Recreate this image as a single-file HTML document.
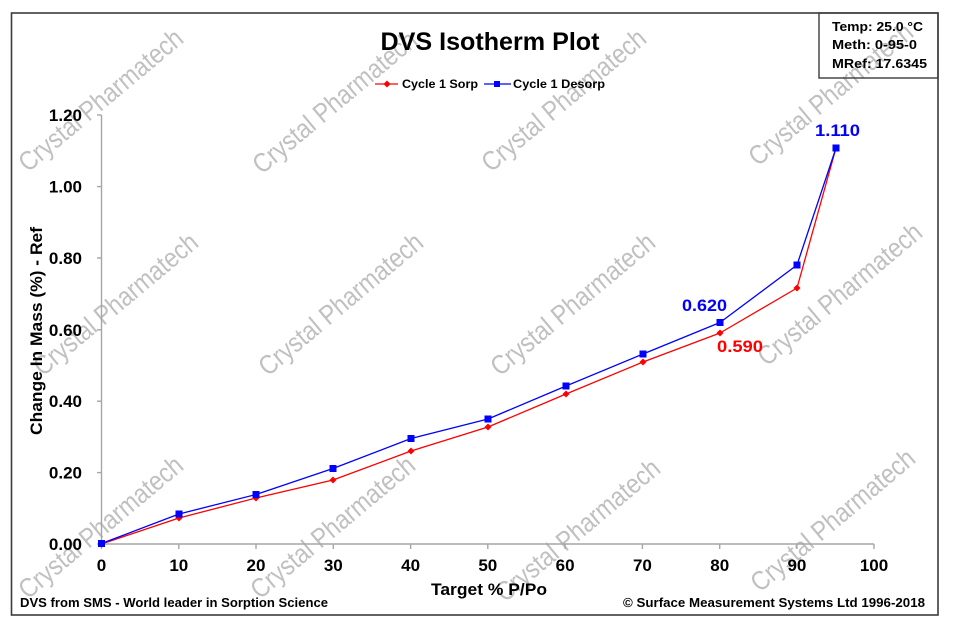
<!DOCTYPE html>
<html>
<head>
<meta charset="utf-8">
<style>
html,body{margin:0;padding:0;background:#fff;}
svg{display:block;}
text{font-family:"Liberation Sans",Arial,sans-serif;}
</style>
</head>
<body>
<svg width="960" height="641" viewBox="0 0 960 641" xmlns="http://www.w3.org/2000/svg">
<rect x="0" y="0" width="960" height="641" fill="#fff"/>

<!-- Watermarks -->
<g fill="#c0c0c0" font-size="27" font-family="'Liberation Sans',sans-serif">
  <text transform="translate(28,173) rotate(-40)" textLength="205" lengthAdjust="spacingAndGlyphs">Crystal Pharmatech</text>
  <text transform="translate(262,175) rotate(-40)" textLength="205" lengthAdjust="spacingAndGlyphs">Crystal Pharmatech</text>
  <text transform="translate(491,173) rotate(-40)" textLength="205" lengthAdjust="spacingAndGlyphs">Crystal Pharmatech</text>
  <text transform="translate(758,167) rotate(-40)" textLength="205" lengthAdjust="spacingAndGlyphs">Crystal Pharmatech</text>

  <text transform="translate(43,377) rotate(-40)" textLength="205" lengthAdjust="spacingAndGlyphs">Crystal Pharmatech</text>
  <text transform="translate(268,377) rotate(-40)" textLength="205" lengthAdjust="spacingAndGlyphs">Crystal Pharmatech</text>
  <text transform="translate(500,377) rotate(-40)" textLength="205" lengthAdjust="spacingAndGlyphs">Crystal Pharmatech</text>
  <text transform="translate(767,367) rotate(-40)" textLength="205" lengthAdjust="spacingAndGlyphs">Crystal Pharmatech</text>

  <text transform="translate(28,600) rotate(-40)" textLength="205" lengthAdjust="spacingAndGlyphs">Crystal Pharmatech</text>
  <text transform="translate(260,600) rotate(-40)" textLength="205" lengthAdjust="spacingAndGlyphs">Crystal Pharmatech</text>
  <text transform="translate(505,603) rotate(-40)" textLength="205" lengthAdjust="spacingAndGlyphs">Crystal Pharmatech</text>
  <text transform="translate(760,593) rotate(-40)" textLength="205" lengthAdjust="spacingAndGlyphs">Crystal Pharmatech</text>
</g>

<!-- Outer frame -->
<rect x="11.5" y="13" width="926.5" height="602" fill="none" stroke="#3c3c3c" stroke-width="1.6"/>
<!-- Info box -->
<rect x="819" y="13" width="119" height="65" fill="none" stroke="#3c3c3c" stroke-width="1.4"/>
<g font-weight="bold" font-size="12.5" fill="#000">
  <text x="832" y="31" textLength="91" lengthAdjust="spacingAndGlyphs">Temp:  25.0 °C</text>
  <text x="832" y="49" textLength="85" lengthAdjust="spacingAndGlyphs">Meth:  0-95-0</text>
  <text x="832" y="68" textLength="95" lengthAdjust="spacingAndGlyphs">MRef:  17.6345</text>
</g>

<!-- Title -->
<text x="490" y="50" text-anchor="middle" font-weight="bold" font-size="25" fill="#000" textLength="219" lengthAdjust="spacingAndGlyphs">DVS Isotherm Plot</text>

<!-- Legend -->
<line x1="375" y1="84" x2="398" y2="84" stroke="#ff0000" stroke-width="1.3"/>
<polygon points="387,80.5 390.5,84 387,87.5 383.5,84" fill="#ff0000"/>
<text x="402" y="88" font-weight="bold" font-size="12" fill="#000" textLength="76" lengthAdjust="spacingAndGlyphs">Cycle 1 Sorp</text>
<line x1="484" y1="84" x2="511" y2="84" stroke="#0000ff" stroke-width="1.3"/>
<rect x="494" y="81" width="6" height="6" fill="#0000ff"/>
<text x="513" y="88" font-weight="bold" font-size="12" fill="#000" textLength="92" lengthAdjust="spacingAndGlyphs">Cycle 1 Desorp</text>

<!-- Axes -->
<g stroke="#a6a6a6" stroke-width="1.4" fill="none">
  <line x1="101.5" y1="115" x2="101.5" y2="544"/>
  <line x1="101.5" y1="544" x2="874" y2="544"/>
  <line x1="97" y1="115" x2="101.5" y2="115"/>
  <line x1="97" y1="186.6" x2="101.5" y2="186.6"/>
  <line x1="97" y1="258" x2="101.5" y2="258"/>
  <line x1="97" y1="329.8" x2="101.5" y2="329.8"/>
  <line x1="97" y1="401.2" x2="101.5" y2="401.2"/>
  <line x1="97" y1="472.6" x2="101.5" y2="472.6"/>
  <line x1="97" y1="544" x2="101.5" y2="544"/>
  <line x1="101.5" y1="544" x2="101.5" y2="549"/>
  <line x1="178.8" y1="544" x2="178.8" y2="549"/>
  <line x1="256" y1="544" x2="256" y2="549"/>
  <line x1="333.3" y1="544" x2="333.3" y2="549"/>
  <line x1="410.6" y1="544" x2="410.6" y2="549"/>
  <line x1="487.8" y1="544" x2="487.8" y2="549"/>
  <line x1="565.1" y1="544" x2="565.1" y2="549"/>
  <line x1="642.4" y1="544" x2="642.4" y2="549"/>
  <line x1="719.7" y1="544" x2="719.7" y2="549"/>
  <line x1="796.9" y1="544" x2="796.9" y2="549"/>
  <line x1="874" y1="544" x2="874" y2="549"/>
</g>

<!-- Y tick labels -->
<g font-weight="bold" font-size="17" fill="#000" text-anchor="end">
  <text x="82" y="121">1.20</text>
  <text x="82" y="192.6">1.00</text>
  <text x="82" y="264">0.80</text>
  <text x="82" y="335.8">0.60</text>
  <text x="82" y="407.2">0.40</text>
  <text x="82" y="478.6">0.20</text>
  <text x="82" y="550">0.00</text>
</g>
<!-- X tick labels -->
<g font-weight="bold" font-size="17" fill="#000" text-anchor="middle">
  <text x="101.5" y="571">0</text>
  <text x="178.8" y="571">10</text>
  <text x="256" y="571">20</text>
  <text x="333.3" y="571">30</text>
  <text x="410.6" y="571">40</text>
  <text x="487.8" y="571">50</text>
  <text x="565.1" y="571">60</text>
  <text x="642.4" y="571">70</text>
  <text x="719.7" y="571">80</text>
  <text x="796.9" y="571">90</text>
  <text x="874" y="571">100</text>
</g>

<!-- Axis titles -->
<text x="489" y="595" text-anchor="middle" font-weight="bold" font-size="17" fill="#000" textLength="116" lengthAdjust="spacingAndGlyphs">Target % P/Po</text>
<text transform="translate(42,331) rotate(-90)" text-anchor="middle" font-weight="bold" font-size="17" fill="#000" textLength="208" lengthAdjust="spacingAndGlyphs">Change In Mass (%) - Ref</text>

<!-- Series: Sorp (red) -->
<polyline fill="none" stroke="#ff0000" stroke-width="1.3" stroke-linejoin="round"
  points="101.5,544 179,518 256,498 333,480 411,451 488,427 566,394 643,362 720,333 797,288 836,148"/>
<g fill="#ff0000">
  <polygon points="101.5,540.5 105,544 101.5,547.5 98,544"/>
  <polygon points="179,514.5 182.5,518 179,521.5 175.5,518"/>
  <polygon points="256,494.5 259.5,498 256,501.5 252.5,498"/>
  <polygon points="333,476.5 336.5,480 333,483.5 329.5,480"/>
  <polygon points="411,447.5 414.5,451 411,454.5 407.5,451"/>
  <polygon points="488,423.5 491.5,427 488,430.5 484.5,427"/>
  <polygon points="566,390.5 569.5,394 566,397.5 562.5,394"/>
  <polygon points="643,358.5 646.5,362 643,365.5 639.5,362"/>
  <polygon points="720,329.5 723.5,333 720,336.5 716.5,333"/>
  <polygon points="797,284.5 800.5,288 797,291.5 793.5,288"/>
  <polygon points="836,144.5 839.5,148 836,151.5 832.5,148"/>
</g>

<!-- Series: Desorp (blue) -->
<polyline fill="none" stroke="#0000ff" stroke-width="1.3" stroke-linejoin="round"
  points="101.5,543.5 179,514 256,494.5 333,468.5 411,438.5 488,419 566,386 643,354 720,322.5 797,265 836,148"/>
<g fill="#0000ff">
  <rect x="98" y="540" width="7" height="7"/>
  <rect x="175.5" y="510.5" width="7" height="7"/>
  <rect x="252.5" y="491" width="7" height="7"/>
  <rect x="329.5" y="465" width="7" height="7"/>
  <rect x="407.5" y="435" width="7" height="7"/>
  <rect x="484.5" y="415.5" width="7" height="7"/>
  <rect x="562.5" y="382.5" width="7" height="7"/>
  <rect x="639.5" y="350.5" width="7" height="7"/>
  <rect x="716.5" y="319" width="7" height="7"/>
  <rect x="793.5" y="261.5" width="7" height="7"/>
  <rect x="832.5" y="144.5" width="7" height="7"/>
</g>

<!-- Data labels -->
<g font-weight="bold" font-size="16.5">
  <text x="815" y="136" fill="#0000ff" textLength="45" lengthAdjust="spacingAndGlyphs">1.110</text>
  <text x="682" y="311" fill="#0000ff" textLength="45" lengthAdjust="spacingAndGlyphs">0.620</text>
  <text x="717" y="352" fill="#ff0000" textLength="46" lengthAdjust="spacingAndGlyphs">0.590</text>
</g>

<!-- Footer texts -->
<g font-weight="bold" font-size="12.5" fill="#000">
  <text x="20" y="607" textLength="308" lengthAdjust="spacingAndGlyphs">DVS from SMS - World leader in Sorption Science</text>
  <text x="623" y="607" textLength="302" lengthAdjust="spacingAndGlyphs">© Surface Measurement Systems Ltd 1996-2018</text>
</g>
</svg>
</body>
</html>
